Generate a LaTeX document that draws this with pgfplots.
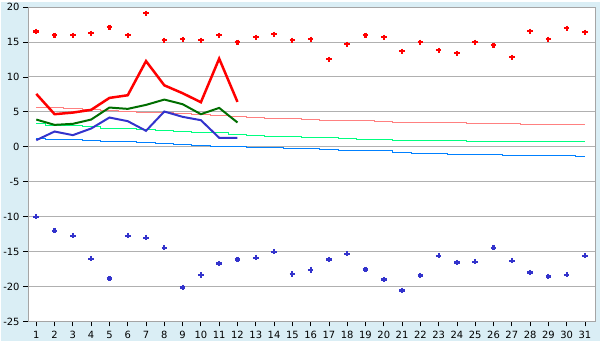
\documentclass[border=0pt]{standalone}
\usepackage{fontspec}
\setmainfont{DejaVu Sans}
\usepackage{pgfplots}
\pgfplotsset{compat=1.18}
\definecolor{bgblue}{RGB}{218,238,245}
\definecolor{gridgray}{RGB}{176,176,176}
\definecolor{framegray}{RGB}{165,165,165}
\definecolor{ptblue}{RGB}{51,51,204}
\definecolor{dkgreen}{RGB}{0,110,0}
\definecolor{steppink}{RGB}{255,128,128}
\definecolor{stepgreen}{RGB}{0,255,128}
\definecolor{stepblue}{RGB}{0,128,255}
\begin{document}
\begin{tikzpicture}[x=1bp,y=1bp]
\fill[bgblue] (0,0) rectangle (600,340);
\begin{axis}[
  at={(27bp,20bp)}, anchor=south west,
  scale only axis, width=568bp, height=315bp,
  xmin=0.55, xmax=31.55, ymin=-25, ymax=20,
  xtick={1,...,31}, ytick={-25,-20,...,20},
  ymajorgrids, grid style={color=gridgray, line width=1bp},
  axis line style={framegray, line width=1bp},
  tick align=outside, tick pos=left,
  major tick length=5bp,
  tick style={black, line width=0.8bp},
  axis background/.style={fill=white},
  ticklabel style={font=\fontsize{10}{12}\selectfont},
  xticklabel style={yshift=-1bp},
  /pgf/number format/assume math mode=true,
  clip=false,
]
% step lines
\addplot[steppink, line width=1bp, const plot mark mid] coordinates {
(1,5.67)(2,5.6)(3,5.5)(4,5.4)(5,5.2)(6,5.1)(7,4.95)(8,4.85)(9,4.7)(10,4.6)(11,4.45)(12,4.35)(13,4.25)(14,4.1)(15,4.0)(16,3.95)(17,3.75)(18,3.7)(19,3.7)(20,3.57)(21,3.45)(22,3.43)(23,3.43)(24,3.43)(25,3.3)(26,3.29)(27,3.29)(28,3.15)(29,3.14)(30,3.14)(31,3.14)};
\addplot[stepgreen, line width=1bp, const plot mark mid] coordinates {
(1,3.38)(2,3.1)(3,3.0)(4,2.86)(5,2.6)(6,2.57)(7,2.43)(8,2.29)(9,2.14)(10,2.0)(11,2.0)(12,1.81)(13,1.67)(14,1.52)(15,1.52)(16,1.38)(17,1.38)(18,1.24)(19,1.1)(20,1.1)(21,0.95)(22,0.95)(23,0.95)(24,0.95)(25,0.81)(26,0.81)(27,0.81)(28,0.81)(29,0.81)(30,0.81)(31,0.81)};
\addplot[stepblue, line width=1bp, const plot mark mid] coordinates {
(1,1.19)(2,1.1)(3,1.05)(4,0.9)(5,0.75)(6,0.71)(7,0.6)(8,0.45)(9,0.38)(10,0.24)(11,0.1)(12,0.1)(13,-0.05)(14,-0.15)(15,-0.25)(16,-0.29)(17,-0.43)(18,-0.57)(19,-0.57)(20,-0.57)(21,-0.76)(22,-0.9)(23,-0.95)(24,-1.05)(25,-1.05)(26,-1.05)(27,-1.19)(28,-1.19)(29,-1.19)(30,-1.3)(31,-1.33)};
% main lines
\addplot[ptblue, line width=2bp, no marks] coordinates {
(1,0.95)(2,2.19)(3,1.67)(4,2.62)(5,4.19)(6,3.67)(7,2.29)(8,5.05)(9,4.29)(10,3.81)(11,1.29)(12,1.29)};
\addplot[dkgreen, line width=2bp, no marks] coordinates {
(1,3.9)(2,3.14)(3,3.29)(4,3.9)(5,5.62)(6,5.43)(7,6.0)(8,6.76)(9,6.1)(10,4.67)(11,5.57)(12,3.48)};
\addplot[red, line width=2.5bp, no marks] coordinates {
(1,7.57)(2,4.67)(3,4.9)(4,5.29)(5,7.0)(6,7.38)(7,12.27)(8,8.8)(9,7.67)(10,6.38)(11,12.62)(12,6.43)};
% extreme points
\addplot[only marks, red, mark=+, mark size=2.8bp, mark options={line width=2.2bp}] coordinates {
(1,16.5)(2,15.95)(3,15.95)(4,16.24)(5,17.1)(6,15.95)(7,19.1)(8,15.24)(9,15.38)(10,15.24)(11,15.95)(12,14.95)(13,15.67)(14,16.1)(15,15.24)(16,15.38)(17,12.52)(18,14.67)(19,15.95)(20,15.67)(21,13.67)(22,14.95)(23,13.81)(24,13.38)(25,14.95)(26,14.52)(27,12.81)(28,16.52)(29,15.38)(30,16.95)(31,16.38)};
\addplot[only marks, ptblue, mark=+, mark size=2.8bp, mark options={line width=2.2bp}] coordinates {
(1,-10)(2,-12)(3,-12.71)(4,-16)(5,-18.86)(6,-12.71)(7,-13)(8,-14.43)(9,-20.14)(10,-18.33)(11,-16.71)(12,-16.14)(13,-15.86)(14,-15)(15,-18.19)(16,-17.6)(17,-16.14)(18,-15.29)(19,-17.57)(20,-19)(21,-20.57)(22,-18.43)(23,-15.57)(24,-16.57)(25,-16.43)(26,-14.43)(27,-16.29)(28,-18)(29,-18.57)(30,-18.29)(31,-15.57)};
\end{axis}
\end{tikzpicture}
\end{document}
